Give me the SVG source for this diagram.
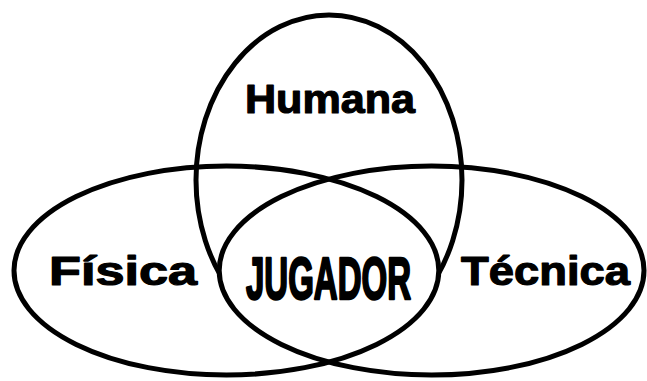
<svg xmlns="http://www.w3.org/2000/svg" width="647" height="381" viewBox="0 0 647 381">
  <style>
    .ring { fill: none; stroke: #000; stroke-width: 5; }
    .lbl { font-family: "Liberation Sans", Arial, sans-serif; font-weight: bold; font-size: 41px; fill: #000; stroke: #000; stroke-width: 1.2; stroke-linejoin: round; }
    .core { font-family: "Liberation Sans Narrow", "Liberation Sans", Arial, sans-serif; font-weight: bold; font-size: 60px; fill: #000; stroke: #000; stroke-width: 2.5; stroke-linejoin: round; }
  </style>
  <defs>
    <clipPath id="clipRight">
      <ellipse cx="431.6" cy="270.5" rx="212.4" ry="104.5"/>
    </clipPath>
  </defs>
  <rect x="0" y="0" width="647" height="381" fill="#fff"/>

  <g id="humana">
    <ellipse class="ring" cx="329" cy="180" rx="133" ry="165"/>
    <text class="lbl" x="245" y="113" textLength="170" lengthAdjust="spacingAndGlyphs">Humana</text>
  </g>

  <g id="jugador">
    <ellipse cx="226.4" cy="270.5" rx="212.4" ry="104.5" fill="#fff" clip-path="url(#clipRight)"/>
    <text class="core" x="246" y="298.5" textLength="165" lengthAdjust="spacingAndGlyphs">JUGADOR</text>
  </g>

  <g id="fisica">
    <ellipse class="ring" cx="226.4" cy="270.5" rx="212.4" ry="104.5"/>
    <text class="lbl" x="49" y="285" textLength="148" lengthAdjust="spacingAndGlyphs">Física</text>
  </g>

  <g id="tecnica">
    <ellipse class="ring" cx="431.6" cy="270.5" rx="212.4" ry="104.5"/>
    <text class="lbl" x="461" y="285" textLength="169" lengthAdjust="spacingAndGlyphs">Técnica</text>
  </g>

  <g id="connectors"></g>
</svg>
